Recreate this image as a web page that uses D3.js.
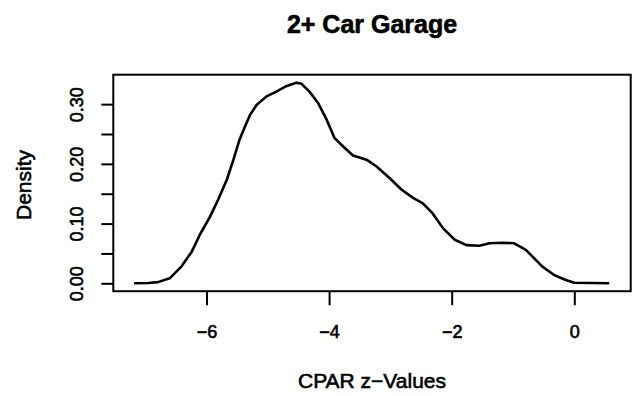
<!DOCTYPE html>
<html>
<head>
<meta charset="utf-8">
<script src="https://cdn.jsdelivr.net/npm/d3@7"></script>
<style>
  html, body { margin: 0; padding: 0; background: #fff; }
  svg { display: block; font-family: "Liberation Sans", Arial, sans-serif; }
  .heavy { stroke: #000; stroke-width: 0.6px; paint-order: stroke; }
</style>
</head>
<body>
<svg id="chart" width="634" height="396"></svg>
<script>
// Kernel density estimate of CPAR z-values for homes with a 2+ car garage
const zValues = [-7.18, -6.95, -6.79, -6.60, -6.41, -6.24, -6.11, -5.94, -5.81, -5.67,
  -5.56, -5.46, -5.37, -5.29, -5.18, -5.02, -4.86, -4.70, -4.53, -4.45,
  -4.32, -4.18, -4.04, -3.91, -3.77, -3.61, -3.39, -3.23, -3.01, -2.82,
  -2.63, -2.47, -2.31, -2.14, -1.95, -1.76, -1.55, -1.38, -1.17, -0.98,
  -0.79, -0.52, -0.33, -0.14, 0.00, 0.57];
const densities = [0.000, 0.0005, 0.002, 0.0084, 0.028, 0.053, 0.081, 0.112, 0.140, 0.173,
  0.207, 0.241, 0.263, 0.282, 0.299, 0.313, 0.321, 0.330, 0.336, 0.334,
  0.321, 0.302, 0.274, 0.243, 0.229, 0.214, 0.207, 0.196, 0.176, 0.157,
  0.143, 0.134, 0.117, 0.092, 0.073, 0.064, 0.063, 0.067, 0.068, 0.067,
  0.056, 0.028, 0.014, 0.0056, 0.001, 0.000];

const xTicks = [-6, -4, -2, 0];
const yTicks = [0, 0.05, 0.10, 0.15, 0.20, 0.25, 0.30];
const yLabelTicks = [0, 0.10, 0.20, 0.30];

const titleText = "2+ Car Garage";
const xTitle = "CPAR z\u2212Values";
const yTitle = "Density";

const plotLeft = 113.3, plotRight = 630.7, plotTop = 74.7, plotBottom = 291.2;

const x = d3.scaleLinear().domain([-7.52, 0.92]).range([plotLeft, plotRight]);
const y = d3.scaleLinear().domain([-0.0132, 0.3493]).range([plotBottom, plotTop]);

const svg = d3.select("#chart");

// plot box
svg.append("rect")
  .attr("x", plotLeft).attr("y", plotTop)
  .attr("width", plotRight - plotLeft).attr("height", plotBottom - plotTop)
  .attr("fill", "none").attr("stroke", "#000").attr("stroke-width", 2);

// x axis
const xAxis = svg.append("g")
  .attr("transform", `translate(0,${plotBottom})`)
  .call(d3.axisBottom(x).tickValues(xTicks).tickSize(14)
    .tickFormat(d => d === 0 ? "0" : "\u2212" + Math.abs(d)));
xAxis.select(".domain").remove();
xAxis.selectAll(".tick line").attr("stroke", "#000").attr("stroke-width", 2);
xAxis.selectAll(".tick text")
  .attr("class", "heavy")
  .attr("fill", "#000").attr("font-size", 18).attr("font-family", "Liberation Sans, Arial, sans-serif")
  .attr("dy", 0).attr("y", 47);

// y axis
const yAxis = svg.append("g")
  .attr("transform", `translate(${plotLeft},0)`)
  .call(d3.axisLeft(y).tickValues(yTicks).tickSize(12)
    .tickFormat(d => yLabelTicks.some(v => Math.abs(v - d) < 1e-9) ? d3.format(".2f")(d) : ""));
yAxis.select(".domain").remove();
yAxis.selectAll(".tick line").attr("stroke", "#000").attr("stroke-width", 2);
yAxis.selectAll(".tick text")
  .attr("class", "heavy")
  .attr("fill", "#000").attr("font-size", 18).attr("font-family", "Liberation Sans, Arial, sans-serif")
  .attr("transform", "rotate(-90)")
  .attr("x", 0).attr("y", -30).attr("dy", 0)
  .attr("text-anchor", "middle");

// density curve
const line = d3.line().x((d, i) => x(zValues[i])).y(d => y(d));
svg.append("path")
  .datum(densities)
  .attr("d", line)
  .attr("fill", "none")
  .attr("stroke", "#000")
  .attr("stroke-width", 2.6)
  .attr("stroke-linejoin", "round");

// titles
svg.append("text")
  .attr("class", "heavy")
  .attr("x", (plotLeft + plotRight) / 2).attr("y", 33)
  .attr("text-anchor", "middle")
  .attr("font-size", 25).attr("font-weight", "bold")
  .text(titleText);

svg.append("text")
  .attr("class", "heavy")
  .attr("x", (plotLeft + plotRight) / 2).attr("y", 388)
  .attr("text-anchor", "middle")
  .attr("font-size", 21)
  .text(xTitle);

svg.append("text")
  .attr("class", "heavy")
  .attr("transform", `translate(31,185) rotate(-90)`)
  .attr("text-anchor", "middle")
  .attr("font-size", 21)
  .text(yTitle);
</script>
</body>
</html>
